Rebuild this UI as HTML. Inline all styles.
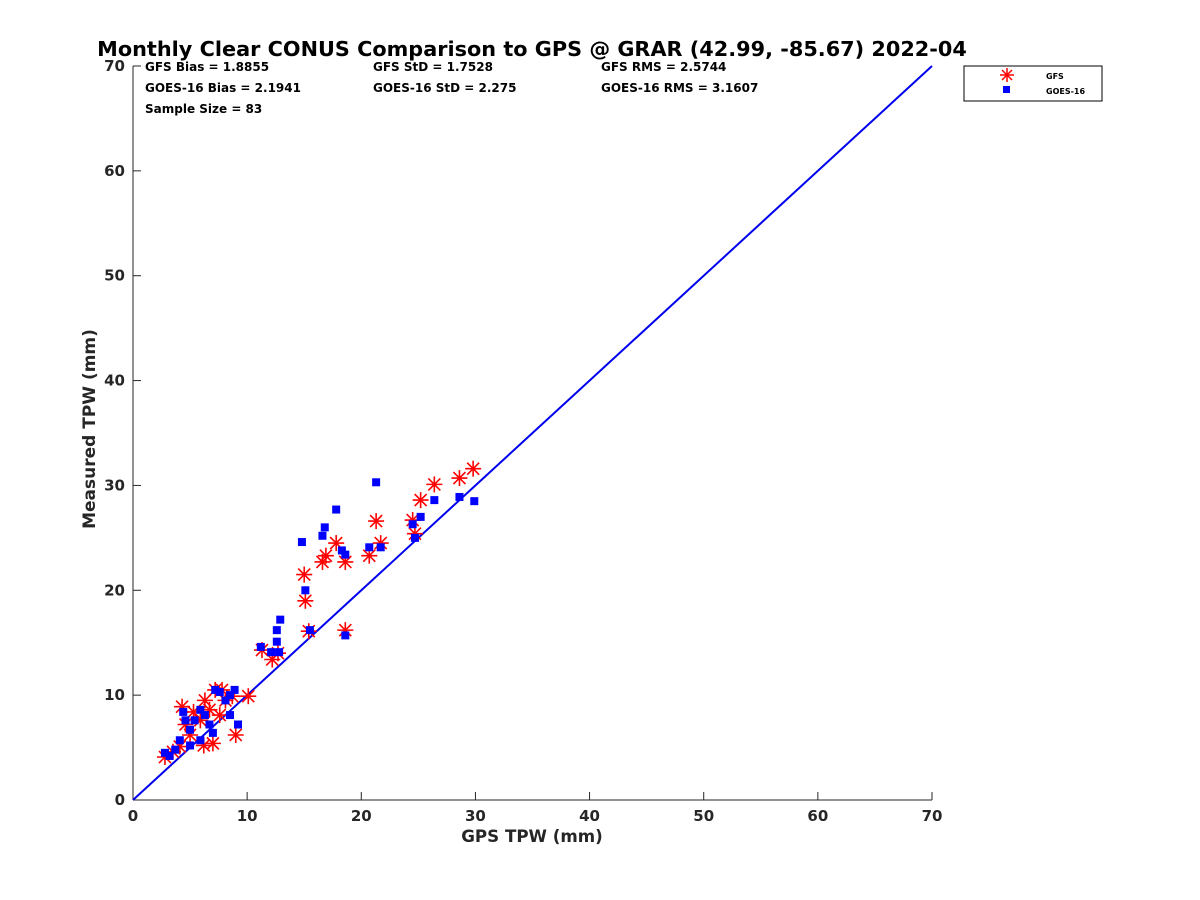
<!DOCTYPE html>
<html><head><meta charset="utf-8"><style>
body{margin:0;background:#fff;}
svg{display:block;font-family:"DejaVu Sans","Liberation Sans",sans-serif;}
</style></head><body>
<svg id="chart" width="1200" height="900">
<rect width="1200" height="900" fill="#fff"/>
<text x="532" y="56" text-anchor="middle" font-size="20.8" font-weight="bold" fill="#000">Monthly Clear CONUS Comparison to GPS @ GRAR (42.99, -85.67) 2022-04</text>
<g font-size="12" font-weight="bold" fill="#000">
<text x="145" y="71">GFS Bias = 1.8855</text>
<text x="373" y="71">GFS StD = 1.7528</text>
<text x="601" y="71">GFS RMS = 2.5744</text>
<text x="145" y="92">GOES-16 Bias = 2.1941</text>
<text x="373" y="92">GOES-16 StD = 2.275</text>
<text x="601" y="92">GOES-16 RMS = 3.1607</text>
<text x="145" y="113">Sample Size = 83</text>
</g>
<g id="axes"></g>
<g id="marks"></g>
<g>
<rect x="964" y="66" width="138" height="35" fill="#fff" stroke="#000" stroke-width="1"/>
<g stroke="red" stroke-width="1.5" transform="translate(1007,75)">
<line x1="-7" y1="0" x2="7" y2="0"/><line x1="0" y1="-7" x2="0" y2="7"/><line x1="-5" y1="-5" x2="5" y2="5"/><line x1="-5" y1="5" x2="5" y2="-5"/></g>
<rect x="1003" y="86" width="7" height="7" fill="blue"/>
<text x="1046" y="79" font-size="8" font-weight="bold">GFS</text>
<text x="1046" y="94" font-size="8" font-weight="bold">GOES-16</text>
</g>
<text x="532" y="842" text-anchor="middle" font-size="16.7" font-weight="bold" fill="#262626">GPS TPW (mm)</text>
<text transform="translate(95,429) rotate(-90)" text-anchor="middle" font-size="17" font-weight="bold" fill="#262626">Measured TPW (mm)</text>
</svg>
<script>
const ticks=[0,10,20,30,40,50,60,70];
const gfsX=[15.0,15.1,15.4,16.6,16.9,17.8,18.6,18.6,20.7,21.3,21.7,24.5,24.7,25.2,26.4,28.6,29.8,11.3,12.2,12.7,10.1,2.8,3.5,4.3,4.1,6.2,7.0,7.2,7.8,8.7,9.0,5.3,5.9,5.0,6.7,6.3,8.1,4.6,7.6];
const gfsY=[21.5,19.0,16.1,22.7,23.3,24.5,22.7,16.2,23.3,26.6,24.5,26.7,25.4,28.6,30.1,30.7,31.6,14.3,13.4,14.0,9.9,4.1,4.6,8.9,5.1,5.2,5.4,10.5,10.5,9.9,6.2,8.4,7.6,6.2,8.6,9.5,9.5,7.2,8.1];
const goesX=[14.8,15.1,15.5,12.6,12.9,12.6,11.2,12.1,12.8,16.6,16.8,17.8,18.3,18.6,18.6,20.7,21.3,21.7,24.5,24.7,25.2,26.4,28.6,29.9,2.8,3.2,3.7,4.4,5.0,5.4,5.9,6.3,6.7,7.2,7.6,8.1,8.5,8.9,7.0,5.9,8.5,9.2,4.6,5.0,4.1];
const goesY=[24.6,20.0,16.2,16.2,17.2,15.1,14.6,14.1,14.1,25.2,26.0,27.7,23.8,23.4,15.7,24.1,30.3,24.1,26.3,25.0,27.0,28.6,28.9,28.5,4.5,4.2,4.8,8.4,6.7,7.6,8.6,8.1,7.2,10.5,10.3,9.5,10.0,10.5,6.4,5.7,8.1,7.2,7.6,5.2,5.7];
const NS="http://www.w3.org/2000/svg";
const L=133,R=932,T=66,B=800;
const sx=v=>L+(R-L)*v/70, sy=v=>B-(B-T)*v/70;
function mk(tag,attrs,parent){const e=document.createElementNS(NS,tag);for(const k in attrs)e.setAttribute(k,attrs[k]);parent.appendChild(e);return e;}
const ax=document.getElementById('axes'), mg=document.getElementById('marks');
const xl=mk('line',{x1:L,y1:B,x2:R,y2:B,stroke:'#262626','stroke-width':1},ax);


const yl=mk('line',{x1:L,y1:T,x2:L,y2:B,stroke:'#262626','stroke-width':1},ax);


ticks.forEach(t=>{
 mk('line',{x1:sx(t),y1:B,x2:sx(t),y2:B-8,stroke:'#262626'},ax);
 mk('line',{x1:L,y1:sy(t),x2:L+8,y2:sy(t),stroke:'#262626'},ax);
 const a=mk('text',{x:sx(t),y:B+21,'text-anchor':'middle','font-size':15,'font-weight':'bold',fill:'#262626'},ax);a.textContent=t;
 
 
 const b=mk('text',{x:L-8,y:sy(t)+5,'text-anchor':'end','font-size':15,'font-weight':'bold',fill:'#262626'},ax);b.textContent=t;
 
 
});
const one=mk('line',{x1:sx(0),y1:sy(0),x2:sx(70),y2:sy(70),stroke:'#0000ee','stroke-width':2},mg);


gfsX.forEach((x,i)=>{
 const g=mk('g',{transform:`translate(${sx(x)},${sy(gfsY[i])})`,stroke:'red','stroke-width':1.6},mg);
 
 
 [[-8,0,8,0],[0,-8,0,8],[-6,-6,6,6],[-6,6,6,-6]].forEach(l=>mk('line',{x1:l[0],y1:l[1],x2:l[2],y2:l[3]},g));
});
goesX.forEach((x,i)=>{
 const r=mk('rect',{x:sx(x)-4,y:sy(goesY[i])-4,width:8,height:8,fill:'blue'},mg);
 
 
});
</script>
</body></html>
